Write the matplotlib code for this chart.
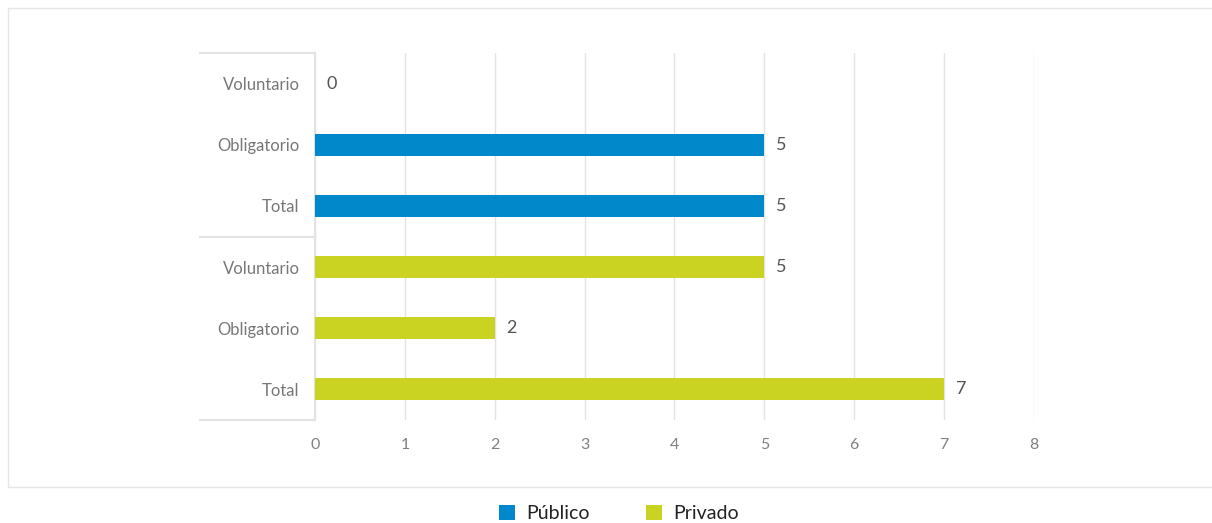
import numpy as np
from matplotlib import pyplot as plt
from matplotlib.patches import Rectangle, Patch

# Data
labels = ['Voluntario', 'Obligatorio', 'Total', 'Voluntario', 'Obligatorio', 'Total']
values = [0, 5, 5, 5, 2, 7]
groups = ['Público', 'Público', 'Público', 'Privado', 'Privado', 'Privado']
group_names = ['Público', 'Privado']
group_colors = {'Público': '#0088CB', 'Privado': '#CAD321'}

plt.rcParams['font.family'] = ['Lato', 'DejaVu Sans']

fig = plt.figure(figsize=(12.12, 5.23), dpi=100)
ax = fig.add_axes([0.2599, 0.1969, 0.5932, 0.7017])

# outer frame
fig.patches.append(Rectangle((8 / 1212, 1 - 487 / 523), 1.0, (487 - 8) / 523,
                             transform=fig.transFigure, fill=False,
                             edgecolor='#E6E6E6', linewidth=1))

y = np.arange(len(values))[::-1]
colors = [group_colors[g] for g in groups]
ax.barh(y, values, height=0.36, color=colors, zorder=3)

for yi, v in zip(y, values):
    ax.text(v + 0.13, yi, str(v), va='center', ha='left', fontsize=13, color='#555555')

ax.set_xlim(0, 8)
ax.set_ylim(-0.5, len(values) - 0.5)
ax.set_xticks(np.arange(0, 9, 1))
ax.set_yticks(y)
ax.set_yticklabels(labels)
ax.tick_params(axis='x', length=0, pad=13, labelsize=11.5, labelcolor='#808080')
ax.tick_params(axis='y', length=0, pad=11, labelsize=12, labelcolor='#777777')
ax.grid(axis='x', color='#E3E3E3', linewidth=1, zorder=0)
for s in ['top', 'right', 'bottom']:
    ax.spines[s].set_visible(False)
ax.spines['left'].set_color('#E3E3E3')
ax.spines['left'].set_linewidth(1.5)

# group separator lines in the label area
for yy in [-0.5, 2.5, 5.5]:
    ax.plot([-0.16, 0], [(yy + 0.5) / len(values)] * 2, transform=ax.transAxes,
            color='#E3E3E3', linewidth=1.5, clip_on=False)

handles = [Patch(facecolor=group_colors[g], label=g) for g in group_names]
fig.legend(handles=handles, loc='lower center', bbox_to_anchor=(0.511, -0.032), ncol=2,
           frameon=False, fontsize=14, handlelength=0.8, handleheight=0.8,
           columnspacing=2.9, handletextpad=0.6, labelcolor='#222222')

fig.savefig('out.png', dpi=100)
